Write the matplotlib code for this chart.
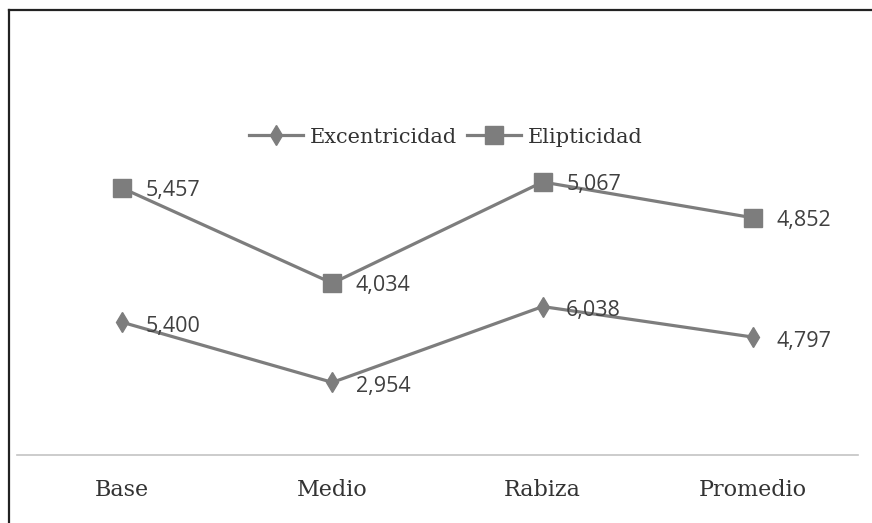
import numpy as np
import matplotlib
matplotlib.use('Agg')
import matplotlib.pyplot as plt
from matplotlib.lines import Line2D

# data (stacked line chart: second series drawn on top of the first)
categories = ['Base', 'Medio', 'Rabiza', 'Promedio']
excentricidad = [5.400, 2.954, 6.038, 4.797]
elipticidad = [5.457, 4.034, 5.067, 4.852]
series_names = ['Excentricidad', 'Elipticidad']

GRAY = '#7d7d7d'

fig = plt.figure(figsize=(8.72, 5.23), dpi=100)
ax = fig.add_axes([17 / 872, 68 / 523, 841 / 872, 295 / 523])

x = np.arange(len(categories))
exc = np.array(excentricidad)
stack = exc + np.array(elipticidad)

l1, = ax.plot(x, exc, color=GRAY, lw=2.3, marker='d', ms=10, mec=GRAY, mfc=GRAY,
              label=series_names[0])
l2, = ax.plot(x, stack, color=GRAY, lw=2.3, marker='s', ms=13, mec=GRAY, mfc=GRAY,
              label=series_names[1])

def fmt(v):
    return f'{v:.3f}'.replace('.', ',')

for xi, yi, v in zip(x, exc, excentricidad):
    ax.annotate(fmt(v), (xi, yi), xytext=(17, -3), textcoords='offset points',
                ha='left', va='center', fontsize=15.5, family='Open Sans', color='#404040')
for xi, yi, v in zip(x, stack, elipticidad):
    ax.annotate(fmt(v), (xi, yi), xytext=(17, -2), textcoords='offset points',
                ha='left', va='center', fontsize=15.5, family='Open Sans', color='#404040')

ax.set_xlim(-0.5, 3.5)
ax.set_ylim(0, 12)
ax.set_xticks(x)
ax.set_xticklabels(categories, family='DejaVu Serif', fontsize=16, color='#333333')
ax.tick_params(axis='x', length=0, pad=17)
ax.set_yticks([])
for s in ['top', 'right', 'left']:
    ax.spines[s].set_visible(False)
ax.spines['bottom'].set_color('#c4c4c4')
ax.spines['bottom'].set_linewidth(1.2)

fig.legend(handles=[l1, l2], loc='center', bbox_to_anchor=(0.511, 0.738), ncol=2,
           frameon=False, handlelength=2.6, handletextpad=0.3, columnspacing=0.5,
           prop={'family': 'DejaVu Serif', 'size': 15}, labelcolor='#333333')

# scanned frame: left and top border
fig.add_artist(Line2D([9 / 872, 9 / 872], [0, 1 - 10 / 523], transform=fig.transFigure,
                      color='#222222', lw=1.6))
fig.add_artist(Line2D([9 / 872, 1], [1 - 10 / 523, 1 - 10 / 523], transform=fig.transFigure,
                      color='#222222', lw=1.6))

fig.savefig('out.png', dpi=100)
